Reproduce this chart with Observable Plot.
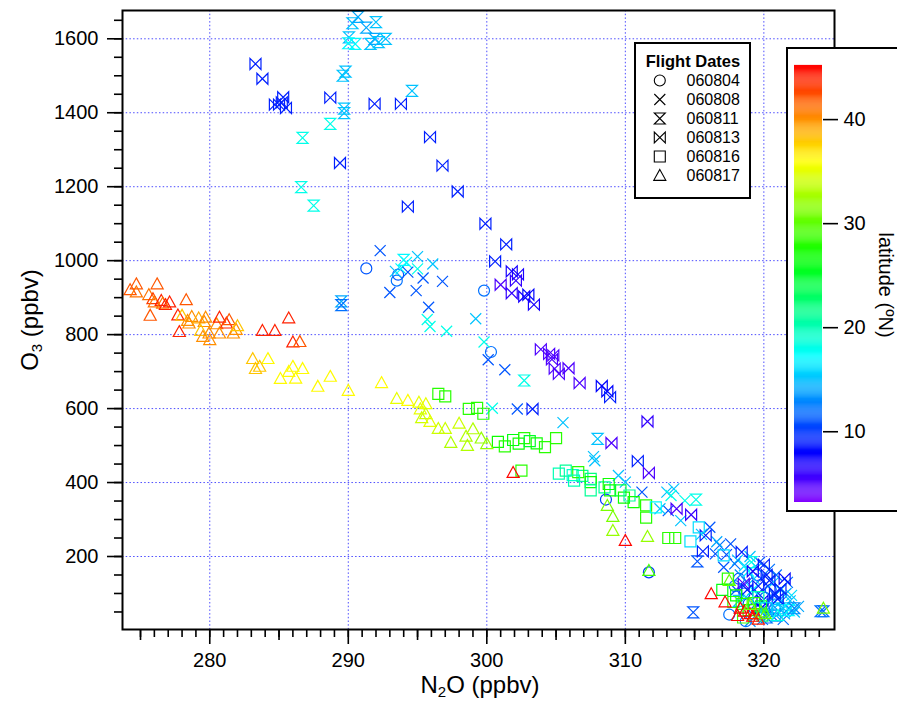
<!DOCTYPE html>
<html><head><meta charset="utf-8">
<script src="https://cdn.jsdelivr.net/npm/d3@7"></script>
<script src="https://cdn.jsdelivr.net/npm/@observablehq/plot@0.6"></script>
<style>
body{margin:0;background:#fff;font-family:"Liberation Sans",Arial,sans-serif;}
#wrap{position:relative;width:897px;height:702px;overflow:hidden;background:#fff;}
#wrap > *{position:absolute;}
</style></head><body><div id="wrap"></div>
<script>
// ---- data: [N2O ppbv, O3 ppbv, latitude °N] ----
const dates = ["060804","060808","060811","060813","060816","060817"];
const f060804 = [[291.3,979,11],[293.6,962,11],[293.5,946,12],[299.8,919,12],[300.3,753,12],[308.6,354,10],[311.7,157,10],[317.5,43,12],[318.2,140,11],[317.9,120,12],[318.6,100,10],[319.3,60,11],[320.1,88,12],[319.7,45,13],[318.9,72,11],[320.5,110,12],[318.7,25,12],[320.8,60,12],[319.5,150,10]];
const f060808 = [[292.3,1027,11],[293.4,971,15],[293.8,978,17],[294.2,995,17],[295.0,1011,15],[294.3,969,11],[295.0,978,18],[296.1,991,15],[295.4,953,11],[296.8,944,11],[294.9,919,11],[293.0,914,11],[295.8,874,11],[295.7,841,18],[295.9,822,18],[297.1,809,18],[299.2,843,15],[299.8,780,18],[300.1,732,11],[301.3,705,11],[300.4,601,18],[302.2,599,11],[305.5,562,15],[307.7,470,15],[307.8,459,15],[309.5,419,15],[310.0,401,15],[311.2,374,11],[313.0,374,15],[313.5,383,15],[313.1,324,11],[314.0,297,15],[316.1,279,11],[316.5,207,11],[317.6,234,11],[314.3,351,18],[312.5,329,15],[313.3,365,18],[317.1,171,11],[318.1,190,15],[318.6,175,16],[319.0,200,15],[319.5,170,14],[319.8,140,11],[320.3,120,10],[320.8,95,11],[321.3,80,12],[321.8,60,13],[320.0,60,12],[320.6,40,11],[321.5,45,14],[319.6,100,10],[320.9,150,12],[318.8,130,11],[321.2,110,15],[319.9,30,12],[322.0,95,16],[316.8,230,12],[315.5,260,15],[318.3,150,13],[318.9,160,17],[319.3,140,15],[319.7,185,11],[320.4,165,12],[320.7,130,15],[321.0,70,16],[321.6,100,14],[321.9,80,15],[322.2,50,15],[321.4,30,12],[320.3,50,14],[319.2,110,17],[318.7,90,15],[317.9,180,12],[317.3,205,11],[316.6,240,14],[318.0,110,11],[319.0,25,13],[322.5,65,14],[321.7,130,12]];
const f060811 = [[290.3,1642,15],[290.7,1659,14],[291.3,1630,14],[292.0,1645,15],[290.05,1604,15],[290.0,1588,17],[290.5,1586,17],[291.6,1586,15],[291.9,1600,14],[292.2,1591,15],[292.7,1600,15],[289.8,1511,15],[289.6,1500,15],[289.7,1411,15],[289.7,1399,15],[288.7,1370,18],[286.7,1332,18],[286.6,1199,18],[287.5,1149,18],[294.6,1459,15],[289.5,890,14],[289.5,880,12],[294.0,1002,17],[302.7,676,18],[308.0,518,15],[315.1,354,18],[315.2,187,11],[314.9,49,11],[324.1,52,12],[319.1,185,18],[320.6,70,13],[321.4,60,15],[320.2,35,12],[318.2,80,15],[321.8,55,17],[322.2,60,13],[320.9,40,14],[324.3,52,12]];
const f060813 = [[283.3,1532,9],[283.8,1492,9],[285.3,1442,9],[285.0,1422,9],[285.2,1428,9],[285.5,1413,9],[284.7,1422,9],[288.7,1441,9],[291.9,1424,9],[293.8,1424,9],[289.4,1264,9],[294.3,1146,9],[295.9,1334,9],[296.8,1257,9],[297.9,1187,9],[299.9,1100,9],[301.4,1044,9],[300.6,998,9],[301.8,971,7],[302.25,963,7],[302.1,946,6],[301.0,935,5],[301.8,912,6],[302.7,903,7],[303.0,908,8],[303.4,881,7],[303.9,760,5],[304.5,748,5],[304.8,744,5],[304.7,733,5],[304.9,708,5],[305.9,709,5],[305.2,694,5],[306.7,669,5],[308.3,661,8],[308.7,647,8],[308.9,631,9],[303.3,599,9],[311.6,565,6],[309.0,507,5],[310.9,458,9],[311.7,426,5],[313.7,329,5],[314.75,313,6],[315.8,257,9],[315.6,214,9],[318.4,212,9],[320.0,178,9],[320.2,150,9],[321.2,112,9],[318.55,126,5],[319.6,120,9],[320.8,100,9],[319.9,80,8],[319.2,160,7],[320.4,135,9],[321.0,85,9],[319.8,60,8],[321.5,140,8],[318.8,110,9]];
const f060816 = [[296.5,640,28],[297.0,633,28],[298.7,599,28],[299.3,602,28],[299.75,586,28],[300.8,510,27],[301.3,498,28],[301.9,515,26],[302.3,505,27],[302.7,520,28],[302.5,432,28],[303.1,512,25],[303.6,506,27],[304.2,496,28],[305.0,520,28],[305.2,424,20],[305.7,432,21],[306.2,420,19],[306.9,418,21],[307.5,410,22],[306.6,428,28],[306.3,405,20],[307.5,401,27],[307.5,379,21],[308.5,387,21],[308.8,396,27],[308.9,379,27],[309.65,379,24],[309.9,359,27],[310.3,365,21],[310.6,347,27],[311.5,338,28],[311.5,305,28],[312.2,333,17],[313.1,250,28],[313.6,250,28],[314.7,241,16],[315.3,279,16],[317.1,203,16],[317.4,140,28],[317.8,77,28],[318.4,72,28],[319.3,74,28],[318.9,55,27],[319.8,65,25],[317.0,110,26],[318.0,95,27],[319.6,90,20],[320.2,60,16],[321.0,55,15],[318.5,35,29],[319.9,40,22]];
const f060817 = [[274.25,921,42],[274.7,937,42],[274.7,915,41],[276.2,937,42],[275.6,908,41],[275.9,897,43],[276.0,888,41],[276.5,892,44],[276.6,885,41],[276.8,881,44],[277.1,888,44],[278.3,894,42],[275.7,852,42],[277.7,853,44],[278.0,852,38],[277.8,808,44],[278.4,838,40],[278.7,849,40],[278.5,831,40],[279.2,845,39],[279.6,835,40],[279.7,847,40],[279.35,811,38],[279.5,795,40],[279.95,804,40],[280.0,786,40],[280.5,829,40],[280.7,847,44],[281.2,831,44],[281.4,840,42],[280.7,804,40],[281.7,804,40],[281.9,814,40],[282.0,824,38],[283.8,811,44],[284.7,811,44],[285.7,845,44],[286.0,780,44],[286.5,781,42],[283.1,735,38],[284.2,735,36],[283.3,708,38],[283.6,714,38],[285.1,681,36],[285.7,700,36],[286.0,714,36],[286.2,682,36],[286.7,708,36],[287.8,660,36],[288.7,687,36],[290.0,649,36],[292.4,670,36],[293.5,627,35],[294.3,622,36],[295.1,617,35],[295.2,599,35],[295.6,613,35],[295.6,586,34],[295.3,575,34],[295.9,565,35],[296.5,546,34],[297.0,546,34],[297.4,508,33],[298.0,560,34],[298.5,525,33],[298.6,500,33],[299.0,545,33],[299.6,520,32],[300.0,505,32],[301.9,427,45],[308.7,338,31],[309.1,308,31],[309.1,270,32],[311.6,254,32],[311.7,162,29],[310.0,243,45],[316.2,99,45],[317.2,77,45],[318.1,40,45],[319.0,45,45],[319.4,45,44],[318.6,52,45],[319.2,38,45],[317.5,135,30],[324.3,60,31],[319.8,50,30],[318.3,60,45],[319.6,30,44],[320.1,45,30],[321.0,40,18],[319.0,70,31]];

const series = [f060804,f060808,f060811,f060813,f060816,f060817];
const points = series.flatMap((s,i)=>s.map(([n2o,o3,lat])=>({date:dates[i],n2o,o3,lat})));

// ---- custom open symbols ----
const sym = (f)=>({draw(ctx,size){const h=Math.sqrt(size/Math.PI); f(ctx,h);}});
const symCircle = sym((c,h)=>{c.moveTo(h,0);c.arc(0,0,h,0,2*Math.PI);});
const symTimes = sym((c,h)=>{c.moveTo(-h,-h);c.lineTo(h,h);c.moveTo(h,-h);c.lineTo(-h,h);});
const symHour = sym((c,h)=>{c.moveTo(-h,-h);c.lineTo(h,-h);c.lineTo(-h,h);c.lineTo(h,h);c.closePath();});
const symBow = sym((c,h)=>{c.moveTo(-h,-h);c.lineTo(-h,h);c.lineTo(h,-h);c.lineTo(h,h);c.closePath();});
const symSquare = sym((c,h)=>{c.rect(-h,-h,2*h,2*h);});
const symTri = sym((c,h)=>{const k=h*1.1;c.moveTo(0,-k);c.lineTo(k,k*0.8);c.lineTo(-k,k*0.8);c.closePath();});
const symbolRange = [symCircle,symTimes,symHour,symBow,symSquare,symTri];

const rainbow = t => d3.hsl(270*(1-t),1,0.5).toString();
const latDomain = [3.2,45.2];
const font = "Liberation Sans, Arial, sans-serif";

const wrap = document.getElementById("wrap");

// ---- main chart ----
const main = Plot.plot({
  width:897, height:702,
  marginLeft:122, marginRight:63, marginTop:10, marginBottom:73,
  style:{fontFamily:font, fontSize:"20px", background:"white", color:"black"},
  x:{domain:[273.7,325.1]},
  y:{domain:[2.6,1676.5]},
  color:{type:"linear", domain:latDomain, interpolate:rainbow, clamp:true},
  symbol:{domain:dates, range:symbolRange},
  marks:[
    Plot.gridX(d3.range(280,321,10),{stroke:"#3a3aff",strokeOpacity:0.9,strokeDasharray:"1.5,2.2",strokeWidth:1}),
    Plot.gridY(d3.range(200,1601,200),{stroke:"#3a3aff",strokeOpacity:0.9,strokeDasharray:"1.5,2.2",strokeWidth:1}),
    Plot.dot(points,{x:"n2o",y:"o3",symbol:"date",stroke:"lat",fill:"none",r:5.5,strokeWidth:1.2}),
    Plot.frame({stroke:"black",strokeWidth:2}),
    Plot.axisY(d3.range(50,1651,50),{tickSize:8,tickFormat:()=>"",strokeWidth:1.6,label:null}),
    Plot.axisY(d3.range(200,1601,200),{tickSize:15,tickPadding:9,fontSize:20,strokeWidth:1.6,label:null,tickFormat:d3.format("d")}),
    Plot.axisX(d3.range(275,325,1),{tickSize:8,tickFormat:()=>"",strokeWidth:1.6,label:null}),
    Plot.axisX(d3.range(275,325,10),{tickSize:11,tickFormat:()=>"",strokeWidth:1.6,label:null}),
    Plot.axisX(d3.range(280,321,10),{tickSize:15,tickPadding:8,fontSize:20,strokeWidth:1.6,label:null,tickFormat:d3.format("d")})
  ]
});
main.style.left="0px"; main.style.top="0px";
wrap.appendChild(main);

// axis titles with subscripts
{
  const s = d3.select(main);
  const xt = s.append("text").attr("x",480).attr("y",693).attr("text-anchor","middle")
    .attr("font-size",24).attr("font-family",font).attr("fill","black");
  xt.append("tspan").text("N");
  xt.append("tspan").attr("font-size",15).attr("dy",4).text("2");
  xt.append("tspan").attr("dy",-4).text("O (ppbv)");
  const yt = s.append("text").attr("transform","translate(38,320) rotate(-90)").attr("text-anchor","middle")
    .attr("font-size",24).attr("font-family",font).attr("fill","black");
  yt.append("tspan").text("O");
  yt.append("tspan").attr("font-size",15).attr("dy",4).text("3");
  yt.append("tspan").attr("dy",-4).text(" (ppbv)");
}

// ---- legend ----
const legend = Plot.plot({
  width:113, height:153, margin:0,
  style:{fontFamily:font, background:"white", color:"black"},
  x:{domain:[0,1], range:[23.3,23.3], axis:null},
  y:{type:"point", domain:dates, range:[34.5,132.5], padding:0, axis:null},
  symbol:{domain:dates, range:symbolRange},
  marks:[
    Plot.dot(dates,{x:()=>0,y:d=>d,symbol:d=>d,stroke:"black",fill:"none",r:5.5,strokeWidth:1.1}),
    Plot.text(dates,{x:()=>0,y:d=>d,text:d=>d,dx:26.7,textAnchor:"start",fontSize:16,fill:"black"}),
    Plot.text(["Flight Dates"],{frameAnchor:"top",dy:11,dx:0,fontSize:16.5,fontWeight:"bold",fill:"black"})
  ]
});
legend.style.left="634px"; legend.style.top="42px"; legend.style.border="2px solid black";
wrap.appendChild(legend);

// ---- colour bar ----
const barVals = d3.range(3.2,45.2,0.1);
const cbar = Plot.plot({
  width:113, height:461,
  marginLeft:6, marginRight:79, marginTop:16, marginBottom:8,
  style:{fontFamily:font, fontSize:"20px", background:"white", color:"black", overflow:"visible"},
  x:{domain:[0,1], axis:null},
  y:{domain:latDomain},
  color:{type:"linear", domain:latDomain, interpolate:rainbow},
  marks:[
    Plot.rect(barVals,{x1:0,x2:1,y1:d=>d,y2:d=>d+0.11,fill:d=>d}),
    Plot.axisY([10,20,30,40],{anchor:"right",tickSize:15,tickPadding:6,fontSize:20,strokeWidth:1.6,label:null})
  ]
});
cbar.style.left="786px"; cbar.style.top="47px";
cbar.style.borderLeft="2px solid black"; cbar.style.borderTop="2px solid black"; cbar.style.borderBottom="2px solid black";
wrap.appendChild(cbar);
d3.select(cbar).append("text").attr("transform","translate(91,236) rotate(90)").attr("text-anchor","middle")
  .attr("font-size",20).attr("font-family",font).attr("fill","black").text("latitude (ºN)");
</script>
</body></html>
